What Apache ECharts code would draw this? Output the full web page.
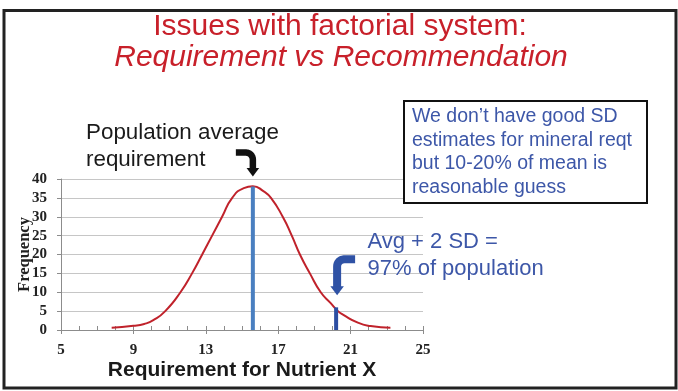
<!DOCTYPE html>
<html>
<head>
<meta charset="utf-8">
<script src="https://cdn.jsdelivr.net/npm/echarts@6/dist/echarts.min.js"></script>
<style>
  html, body { margin: 0; padding: 0; background: #fff; }
  #chart { width: 678px; height: 391px; }
</style>
</head>
<body>
<div id="chart"></div>
<script>
// Distribution of individual requirements for nutrient X
const requirement = [7.8, 9.0, 9.6, 10.1, 10.76, 11.6, 12.24, 12.8, 13.35, 13.9, 14.46, 15.1, 15.6,
                     16.2, 16.6, 17.25, 17.75, 18.2, 18.75, 19.35, 19.9, 20.3, 20.6, 21.4, 22.1, 23.2];
const frequency   = [0.6, 1.1, 1.6, 2.6, 5, 10, 15, 20, 25, 30, 35, 37.6, 38.1,
                     36.7, 35, 30, 25, 20, 15, 10, 7.1, 5, 4.0, 1.95, 1.05, 0.6];

// Population average requirement and average + 2 SD
const averageRequirement = 15.6;
const averagePeak = 38;
const recommendation = 20.2;
const recommendationHeight = 6;

// Axis ranges and tick steps
const xRange = [5, 25];
const xLabelStep = 4;
const xMinorStep = 1;
const yRange = [0, 40];
const yStep = 5;

const titleLines = ['Issues with factorial system:', 'Requirement vs Recommendation'];
const noteText = ['We don\u2019t have good SD', 'estimates for mineral reqt', 'but 10-20% of mean is', 'reasonable guess'];
const averageText = ['Population average', 'requirement'];
const recommendText = ['Avg + 2 SD =', '97% of population'];

const RED = '#C8202A';
const BLUE_TEXT = '#3D57A8';
const SANS = '"Liberation Sans", Arial, sans-serif';
const SERIF = '"Liberation Serif", "Times New Roman", serif';
const AXIS_GREY = '#8c8c8c';

const chart = echarts.init(document.getElementById('chart'), null, { renderer: 'canvas' });

const axisLabelStyle = { fontFamily: SERIF, fontWeight: 'bold', fontSize: 15, color: '#222' };

chart.setOption({
  animation: false,
  backgroundColor: '#fff',
  grid: { left: 61, right: 255, top: 179, bottom: 61, containLabel: false },
  xAxis: [
    {
      type: 'value', min: xRange[0], max: xRange[1], interval: xLabelStep,
      axisLine: { show: true, lineStyle: { color: AXIS_GREY, width: 1 } },
      axisTick: { show: true, inside: false, length: 4, lineStyle: { color: AXIS_GREY } },
      axisLabel: Object.assign({ margin: 13 }, axisLabelStyle),
      splitLine: { show: false },
      name: 'Requirement for Nutrient X',
      nameLocation: 'middle',
      nameGap: 30,
      nameTextStyle: { fontFamily: SANS, fontWeight: 'bold', fontSize: 21, color: '#1a1a1a' }
    },
    {
      type: 'value', min: xRange[0], max: xRange[1], interval: xMinorStep,
      position: 'bottom',
      axisLine: { show: false },
      axisTick: { show: true, inside: true, length: 4, lineStyle: { color: AXIS_GREY } },
      axisLabel: { show: false },
      splitLine: { show: false }
    }
  ],
  yAxis: {
    type: 'value', min: yRange[0], max: yRange[1], interval: yStep,
    axisLine: { show: true, lineStyle: { color: AXIS_GREY, width: 1 } },
    axisTick: { show: true, inside: false, length: 4, lineStyle: { color: AXIS_GREY } },
    axisLabel: Object.assign({ margin: 14 }, axisLabelStyle),
    splitLine: { show: true, lineStyle: { color: '#c6c6c6', width: 1 } },
    name: 'Frequency',
    nameLocation: 'middle',
    nameRotate: 90,
    nameGap: 28,
    nameMoveOverlap: false,
    nameTextStyle: { fontFamily: SERIF, fontWeight: 'bold', fontSize: 16.5, color: '#222' }
  },
  series: [
    {
      type: 'line',
      name: 'Frequency',
      data: requirement.map((x, i) => [x, frequency[i]]),
      smooth: 0.55,
      showSymbol: false,
      lineStyle: { color: '#C0222B', width: 2 },
      z: 3
    },
    {
      type: 'line',
      name: 'Average requirement',
      data: [[averageRequirement, 0], [averageRequirement, averagePeak]],
      showSymbol: false,
      lineStyle: { color: '#4A7FC0', width: 4, cap: 'butt' },
      z: 4
    },
    {
      type: 'line',
      name: 'Average + 2 SD',
      data: [[recommendation, 0], [recommendation, recommendationHeight]],
      showSymbol: false,
      lineStyle: { color: '#2C4EA2', width: 4, cap: 'butt' },
      z: 4
    }
  ]
});

// Bent arrow: horizontal run, rounded corner, then down to an arrowhead
function bentArrow(tipX, tipY, dx, rise, headW, headH, width, color) {
  const r = 7;
  const barY = tipY - rise;
  const dir = dx < 0 ? -1 : 1;
  const cx = tipX + dir * r;
  const cy = barY + r;
  const pts = [[tipX + dx, barY]];
  for (let k = 0; k <= 8; k++) {
    const a = (Math.PI / 2) * k / 8;
    pts.push([cx - dir * r * Math.sin(a), cy - r * Math.cos(a)]);
  }
  pts.push([tipX, tipY - headH + 1]);
  return [
    { type: 'polyline', shape: { points: pts }, style: { stroke: color, lineWidth: width, fill: null, lineJoin: 'round' }, z: 50 },
    { type: 'polygon', shape: { points: [[tipX - headW / 2, tipY - headH], [tipX + headW / 2, tipY - headH], [tipX, tipY]] },
      style: { fill: color }, z: 50 }
  ];
}

const peakPx = chart.convertToPixel({ xAxisIndex: 0, yAxisIndex: 0 }, [averageRequirement, averagePeak]);
const recPx = chart.convertToPixel({ xAxisIndex: 0, yAxisIndex: 0 }, [recommendation, recommendationHeight]);

const graphics = [
  // slide frame
  { type: 'rect', shape: { x: 4, y: 10.5, width: 672, height: 377.5 },
    style: { fill: null, stroke: '#222', lineWidth: 3 }, z: 100 },
  // title
  { type: 'text', x: 340, y: 26.5, z: 60,
    style: { text: titleLines[0], font: '30px ' + SANS, fill: RED, align: 'center', verticalAlign: 'middle', textAlign: 'center', textVerticalAlign: 'middle' } },
  { type: 'text', x: 341, y: 57.5, z: 60,
    style: { text: titleLines[1], font: 'italic 30px ' + SANS, fill: RED, align: 'center', verticalAlign: 'middle', textAlign: 'center', textVerticalAlign: 'middle' } },
  // note box
  { type: 'rect', shape: { x: 404, y: 101, width: 243, height: 102 },
    style: { fill: '#fff', stroke: '#111', lineWidth: 2 }, z: 40 },
  { type: 'text', x: 412, y: 104.7, z: 41,
    style: { text: noteText.join('\n'), font: '19.5px ' + SANS, lineHeight: 23.7, fill: BLUE_TEXT, align: 'left', verticalAlign: 'top', textAlign: 'left', textVerticalAlign: 'top' } },
  // annotations
  { type: 'text', x: 86, y: 119.6, z: 41,
    style: { text: averageText.join('\n'), font: '22.4px ' + SANS, lineHeight: 26.7, fill: '#1a1a1a', align: 'left', verticalAlign: 'top', textAlign: 'left', textVerticalAlign: 'top' } },
  { type: 'text', x: 367.5, y: 228.3, z: 41,
    style: { text: recommendText.join('\n'), font: '22px ' + SANS, lineHeight: 27.4, fill: BLUE_TEXT, align: 'left', verticalAlign: 'top', textAlign: 'left', textVerticalAlign: 'top' } }
];

graphics.push.apply(graphics, bentArrow(peakPx[0], peakPx[1] - 10, -17, 24, 12.6, 8.5, 6.5, '#111'));
graphics.push.apply(graphics, bentArrow(recPx[0] + 1, recPx[1] - 12, 18, 36, 13.5, 9, 8, '#2F52A5'));

chart.setOption({ graphic: { elements: graphics } });
</script>
</body>
</html>
